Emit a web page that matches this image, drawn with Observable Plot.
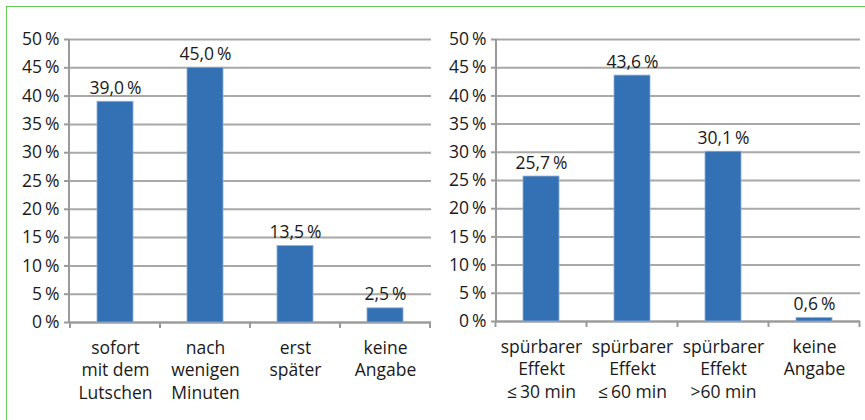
<!DOCTYPE html>
<html><head><meta charset="utf-8">
<script src="https://cdn.jsdelivr.net/npm/d3@7"></script>
<script src="https://cdn.jsdelivr.net/npm/@observablehq/plot@0.6"></script>
<style>
body{margin:0;background:#fff;}
#wrap{position:relative;width:865px;height:420px;overflow:hidden;font-family:"Open Sans",sans-serif;}
#frame{position:absolute;left:6px;top:6px;width:870px;height:420px;border-left:1.5px solid #66cc55;border-top:1.5px solid #66cc55;}
#left{position:absolute;left:0;top:0;}
#right{position:absolute;left:432px;top:0;}
</style></head><body>
<div id="wrap"><div id="frame"></div><div id="left"></div><div id="right"></div></div>
<script>
const leftCategories = ["sofort\nmit dem\nLutschen", "nach\nwenigen\nMinuten", "erst\nspäter", "keine\nAngabe"];
const leftValues = [39.0, 45.0, 13.5, 2.5];
const rightCategories = ["spürbarer\nEffekt\n≤\u200930 min", "spürbarer\nEffekt\n≤\u200960 min", "spürbarer\nEffekt\n>60 min", "keine\nAngabe"];
const rightValues = [25.7, 43.6, 30.1, 0.6];
const yTicks = [0, 5, 10, 15, 20, 25, 30, 35, 40, 45, 50];

const BAR = "#3470b4", GRID = "#a8a8a8", AXIS = "#9a9a9a", TEXT = "#1a1a1a";
const FONT = 17.5;
const pct = v => String(v) + "\u2009%";
const valFmt = v => v.toFixed(1).replace(".", ",") + "\u2009%";

function categoryFrame(categories) {
  return (index, scales, values, dims) => {
    const x = scales.x;
    const bw = typeof x.bandwidth === "function" ? x.bandwidth() : x.bandwidth;
    const step = typeof x.step === "function" ? x.step() : bw / (1 - 0.6);
    const y0 = dims.height - dims.marginBottom;
    const g = d3.create("svg:g").attr("stroke", AXIS).attr("stroke-width", 2);
    const centers = categories.map(c => x(c) + bw / 2);
    const bounds = [centers[0] - step / 2, ...centers.map(c => c + step / 2)];
    g.selectAll("line.t").data(bounds).join("line").attr("class", "t")
      .attr("x1", d => d).attr("x2", d => d).attr("y1", y0).attr("y2", y0 + 6);
    g.append("line").attr("x1", dims.marginLeft).attr("x2", dims.marginLeft)
      .attr("y1", dims.marginTop).attr("y2", y0);
    return g.node();
  };
}

function chart(categories, values, opts) {
  const data = categories.map((c, i) => ({cat: c, value: values[i]}));
  return Plot.plot({
    width: opts.width,
    height: 420,
    marginLeft: opts.marginLeft,
    marginRight: opts.marginRight,
    marginTop: 39,
    marginBottom: opts.marginBottom,
    style: {fontFamily: '"Open Sans", sans-serif', fontSize: FONT + "px", color: TEXT, background: "transparent"},
    x: {domain: categories, paddingInner: 0.6, paddingOuter: 0.3, label: null},
    y: {domain: [0, 50], ticks: yTicks, label: null},
    marks: [
      Plot.gridY(yTicks, {stroke: GRID, strokeOpacity: 1, strokeWidth: 2}),
      Plot.ruleY([0], {stroke: AXIS, strokeWidth: 2}),
      Plot.barY(data, {x: "cat", y: "value", fill: BAR, stroke: "#8cadd6", strokeWidth: 0.8}),
      Plot.text(data, {x: "cat", y: "value", text: d => valFmt(d.value), dy: -8, lineAnchor: "bottom", fill: TEXT, fontSize: FONT}),
      Plot.axisY(yTicks, {tickSize: 5, tickPadding: 5, tickFormat: pct, stroke: AXIS, strokeWidth: 2, fill: TEXT, fontSize: FONT}),
      Plot.axisX({tickSize: 0, tickPadding: 15, fontSize: FONT, lineHeight: 1.29, fill: TEXT}),
      categoryFrame(categories)
    ]
  });
}

document.getElementById("left").append(chart(leftCategories, leftValues, {width: 432, marginLeft: 69, marginRight: 1, marginBottom: 98}));
document.getElementById("right").append(chart(rightCategories, rightValues, {width: 433, marginLeft: 64, marginRight: 5, marginBottom: 99}));
</script>
</body></html>
